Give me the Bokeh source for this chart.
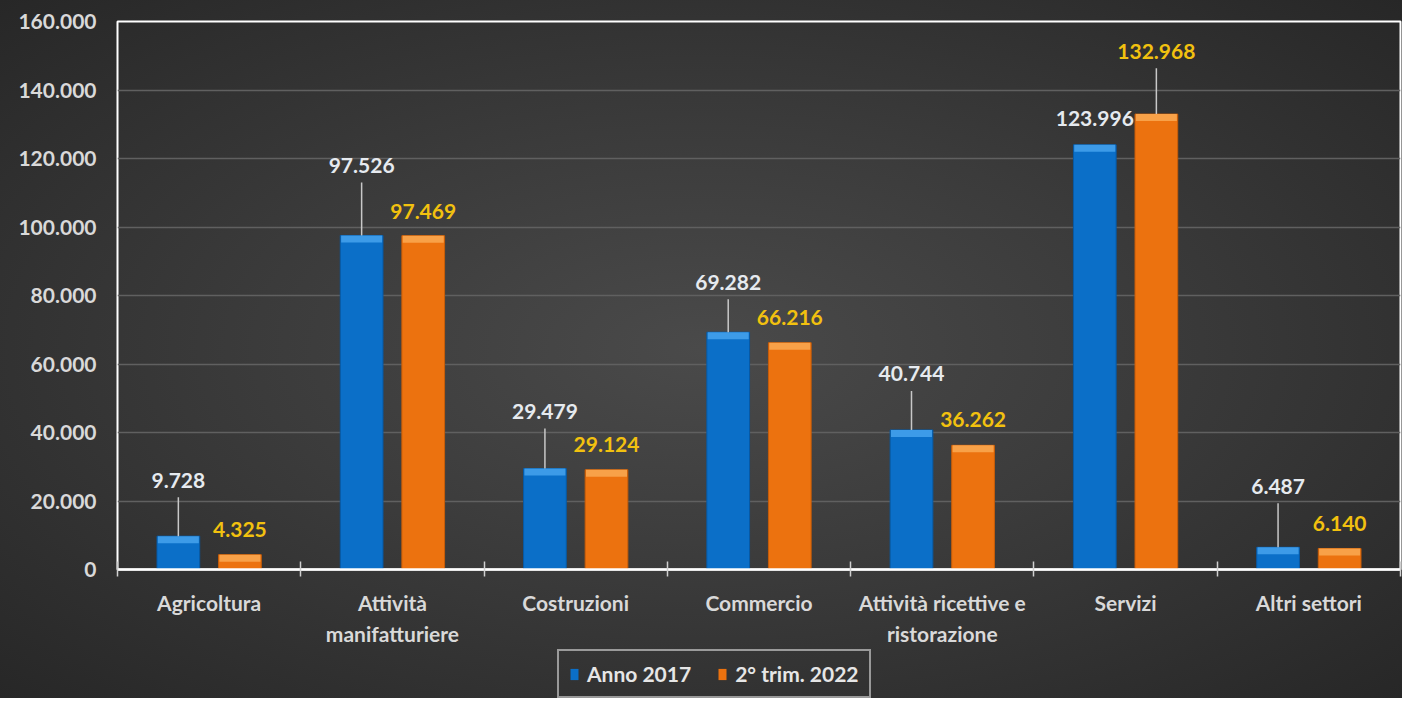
from bokeh.plotting import figure
from bokeh.layouts import column
from bokeh.models import FixedTicker, Range1d, Legend, LegendItem, ColumnDataSource
from bokeh.core.properties import value
from bokeh.embed import file_html
from bokeh.resources import INLINE

# ---------------- data ----------------
categories = ["Agricoltura", "Attività\nmanifatturiere", "Costruzioni", "Commercio",
              "Attività ricettive e\nristorazione", "Servizi", "Altri settori"]
anno_2017 = [9728, 97526, 29479, 69282, 40744, 123996, 6487]
trim_2022 = [4325, 97469, 29124, 66216, 36262, 132968, 6140]
series_names = ["Anno 2017", "2° trim. 2022"]
y_ticks = [0, 20000, 40000, 60000, 80000, 100000, 120000, 140000, 160000]

# ---------------- style ----------------
FONT_NAME = "Lato"
FONT = value(FONT_NAME)
BLUE, BLUE_HI, BLUE_DK = "#0b6fc8", "#3d9be8", "#075aa6"
ORANGE, ORANGE_HI, ORANGE_DK = "#ec720f", "#f8a148", "#c85d08"
LBL_BLUE, LBL_ORANGE = "#e6eaef", "#f2c10f"
TXT = "#d9d9d9"
label_lift_2017 = [56, 70, 57, 50, 56, 26, 61]   # px above bar top
label_lift_2022 = [25, 24, 25, 25, 26, 63, 25]
BAR_W, BAR_OFF = 0.233, 0.168
Y_MAX = 160000
FRAME_H = 549
UPP = Y_MAX / FRAME_H  # data units per pixel
W, H_MAIN, H_LEG = 1402, 648, 50
LEFT = 117
BG = "radial-gradient(ellipse at 50% 50%, #4a4a4a 0%, #3b3b3b 45%, #272727 100%)"


def fmt(v):
    return f"{v:,}".replace(",", ".")


p = figure(width=W, height=H_MAIN, x_range=Range1d(0, len(categories)),
           y_range=Range1d(0, Y_MAX), output_backend="svg", toolbar_location=None,
           min_border_left=LEFT, min_border_right=2, min_border_top=21,
           min_border_bottom=H_MAIN - 21 - FRAME_H)
p.background_fill_color = None
p.border_fill_color = None
p.outline_line_color = "white"
p.outline_line_width = 2

# grid
p.xgrid.grid_line_color = None
p.ygrid.grid_line_color = "#606060"
p.ygrid.grid_line_width = 1.5

# y axis
p.yaxis.ticker = FixedTicker(ticks=y_ticks)
p.yaxis.major_label_overrides = {t: fmt(t) for t in y_ticks}
p.yaxis.axis_line_color = None
p.yaxis.major_tick_line_color = None
p.yaxis.minor_tick_line_color = None
p.yaxis.major_tick_out = 0
p.yaxis.minor_tick_out = 0
p.yaxis.major_label_standoff = 21
p.yaxis.major_label_text_font = FONT_NAME
p.yaxis.major_label_text_font_style = "bold"
p.yaxis.major_label_text_font_size = "21px"
p.yaxis.major_label_text_color = TXT

# x axis
centers = [i + 0.5 for i in range(len(categories))]
p.xaxis.ticker = FixedTicker(ticks=centers, minor_ticks=list(range(len(categories) + 1)))
p.xaxis.major_label_overrides = {c: n for c, n in zip(centers, categories)}
p.xaxis.axis_line_color = "white"
p.xaxis.axis_line_width = 2.5
p.xaxis.major_tick_line_color = None
p.xaxis.minor_tick_line_color = "#d0d0d0"
p.xaxis.minor_tick_line_width = 1.5
p.xaxis.minor_tick_in = 8
p.xaxis.minor_tick_out = 7
p.xaxis.major_tick_out = 0
p.xaxis.major_tick_in = 0
p.xaxis.major_label_standoff = 13
p.xaxis.major_label_text_font = FONT_NAME
p.xaxis.major_label_text_font_style = "bold"
p.xaxis.major_label_text_font_size = "21px"
p.xaxis.major_label_text_color = TXT
p.xaxis.major_label_text_line_height = 1.25

# bars
xa = [c - BAR_OFF for c in centers]
xb = [c + BAR_OFF for c in centers]
src = ColumnDataSource(dict(
    xa=xa, xb=xb, a=anno_2017, b=trim_2022,
    a_hi=[v - 7 * UPP for v in anno_2017], b_hi=[v - 7 * UPP for v in trim_2022],
    la=[fmt(v) for v in anno_2017], lb=[fmt(v) for v in trim_2022],
    oa=[-l for l in label_lift_2017], ob=[-l for l in label_lift_2022],
))
p.vbar(x="xa", top="a", width=BAR_W, source=src, fill_color=BLUE, line_color=BLUE_DK, line_width=1)
p.vbar(x="xb", top="b", width=BAR_W, source=src, fill_color=ORANGE, line_color=ORANGE_DK, line_width=1)
p.vbar(x="xa", top="a", bottom="a_hi", width=BAR_W * 0.96, source=src, fill_color=BLUE_HI, line_color=None)
p.vbar(x="xb", top="b", bottom="b_hi", width=BAR_W * 0.96, source=src, fill_color=ORANGE_HI, line_color=None)

# leader lines
lx, ly0, ly1 = [], [], []
for xs, vals, lifts in ((xa, anno_2017, label_lift_2017), (xb, trim_2022, label_lift_2022)):
    for x, v, l in zip(xs, vals, lifts):
        if l > 35:
            lx.append(x)
            ly0.append(v)
            ly1.append(v + (l - 17) * UPP)
p.segment(x0=lx, y0=ly0, x1=lx, y1=ly1, line_color="#c8c8c8", line_width=1.5)

# data labels
p.text(x="xa", y="a", text="la", y_offset="oa", source=src, text_align="center",
       text_baseline="middle", text_font=FONT, text_font_style="bold",
       text_font_size="21px", text_color=LBL_BLUE)
p.text(x="xb", y="b", text="lb", y_offset="ob", source=src, text_align="center",
       text_baseline="middle", text_font=FONT, text_font_style="bold",
       text_font_size="21px", text_color=LBL_ORANGE)

# ---------------- legend strip ----------------
pl = figure(width=W, height=H_LEG, x_range=Range1d(0, 1), y_range=Range1d(0, 1),
            output_backend="svg", toolbar_location=None,
            x_axis_location=None, y_axis_location=None,
            min_border_left=LEFT, min_border_right=2, min_border_top=0, min_border_bottom=0)
pl.background_fill_color = None
pl.border_fill_color = None
pl.outline_line_color = None
pl.xgrid.grid_line_color = None
pl.ygrid.grid_line_color = None
# legend swatches only (zero-height, outside the visible range of this strip)
la_r = pl.vbar(x=[-5], top=[0], width=0.1, fill_color=BLUE, line_color=None)
lb_r = pl.vbar(x=[-5], top=[0], width=0.1, fill_color=ORANGE, line_color=None)
legend = Legend(items=[LegendItem(label=series_names[0], renderers=[la_r]),
                       LegendItem(label=series_names[1], renderers=[lb_r])],
                orientation="horizontal", location=(440, 0),
                glyph_width=10, glyph_height=14, label_standoff=8, spacing=26,
                padding=10, margin=0,
                border_line_color="white", border_line_width=2,
                background_fill_alpha=0,
                label_text_font=FONT_NAME, label_text_font_style="bold",
                label_text_font_size="21px", label_text_color="#e6e6e6")
pl.add_layout(legend, "center")

layout = column(p, pl, spacing=0, styles={"background": BG})

open("out.html", "w").write(file_html(layout, INLINE))
